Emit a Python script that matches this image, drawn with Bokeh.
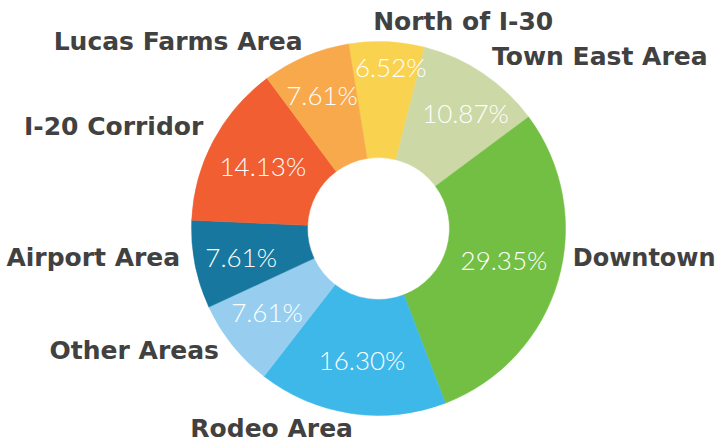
import math
from bokeh.plotting import figure
from bokeh.models import ColumnDataSource, Range1d
from bokeh.core.properties import value
from bokeh.embed import file_html
from bokeh.resources import INLINE

# ---- data ----
categories = ["North of I-30", "Town East Area", "Downtown", "Rodeo Area",
              "Other Areas", "Airport Area", "I-20 Corridor", "Lucas Farms Area"]
counts = [6, 10, 27, 15, 7, 7, 13, 7]
colors = ["#F9D24F", "#CCD9A6", "#72BF44", "#3DB8E9",
          "#97CEEF", "#17779E", "#F15E32", "#F8A94B"]

# ---- layout parameters ----
start_deg = -9.2          # clockwise from 12 o'clock
W, H = 718, 445
cx, cy = 378, H - 228     # y up
r_out, r_in = 187, 71
r_val, r_lab = 140, 195
# per-label nudges (screen px: dx right, dy down)
val_dx = [6, 9, -9, 4, -2, 0, 8, -2]
val_dy = [-22, 1, -8, -7, -4, 1, 3, -5]
lab_dx = [-14, 5, 7, 3, -7, -7, -3, 0]
lab_dy = [-12, -10, -25, 7, 0, -9, -11, -7]
lab_size = ["25px", "25px", "24px", "25px", "25px", "25px", "25px", "25px"]

total = sum(counts)
starts, ends, mids = [], [], []
acc = start_deg
for c in counts:
    sweep = c / total * 360.0
    starts.append(acc)
    ends.append(acc + sweep)
    mids.append(acc + sweep / 2)
    acc += sweep

def to_bokeh(theta):
    return math.radians(90.0 - theta)

src = ColumnDataSource(dict(
    start=[to_bokeh(s) for s in starts],
    end=[to_bokeh(e) for e in ends],
    color=colors,
    cat=categories,
))

p = figure(width=W, height=H, x_range=Range1d(0, W), y_range=Range1d(0, H),
           output_backend="svg", toolbar_location=None, min_border=0,
           x_axis_type=None, y_axis_type=None)
p.grid.visible = False
p.outline_line_color = None
p.background_fill_color = "white"
p.border_fill_color = "white"

p.annular_wedge(x=cx, y=cy, inner_radius=r_in, outer_radius=r_out,
                start_angle="start", end_angle="end", direction="clock",
                fill_color="color", line_color="color", line_width=0.5, source=src)

# value labels
vx, vy, vt = [], [], []
for i, m in enumerate(mids):
    t = math.radians(m)
    vx.append(cx + r_val * math.sin(t) + val_dx[i])
    vy.append(cy + r_val * math.cos(t) - val_dy[i])
    vt.append("%.2f%%" % (counts[i] / total * 100))
p.text(x=vx, y=vy, text=vt, text_font=value("'Lato Light', Lato"), text_font_size="26px",
       text_color="white", text_align="center", text_baseline="middle")

# category labels
for i, m in enumerate(mids):
    t = math.radians(m)
    x = cx + r_lab * math.sin(t) + lab_dx[i]
    y = cy + r_lab * math.cos(t) - lab_dy[i]
    align = "left" if math.sin(t) > 0 else "right"
    p.text(x=[x], y=[y], text=[categories[i]], text_font=value("DejaVu Sans"),
           text_font_style="bold", text_font_size=lab_size[i], text_color="#414141",
           text_align=align, text_baseline="middle")

open("out.html", "w").write(file_html(p, INLINE))
